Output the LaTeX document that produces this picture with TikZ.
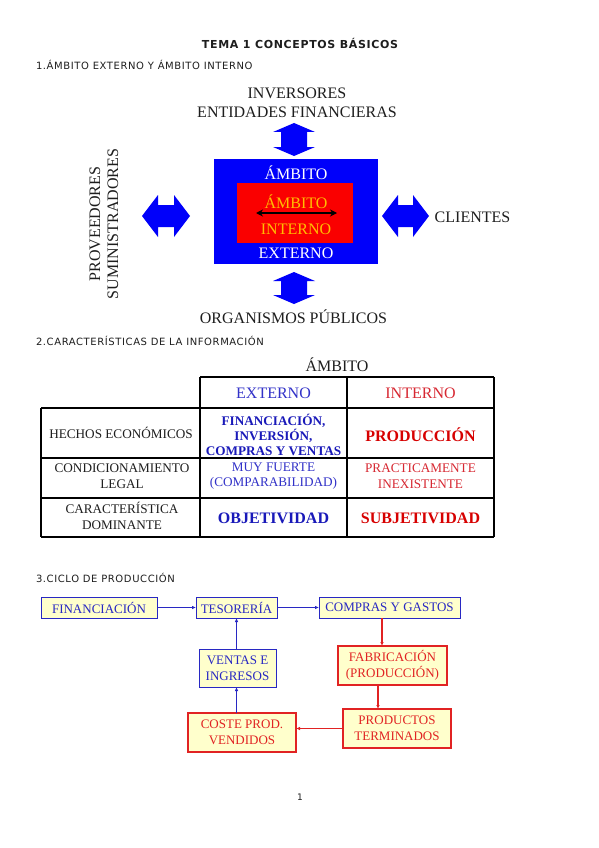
\documentclass[tikz,border=0pt]{standalone}
\usepackage{fontspec}
\setmainfont{Liberation Serif}
\newfontfamily\djsans[LetterSpace=6]{DejaVu Sans}
\usetikzlibrary{arrows.meta}
\definecolor{bxblue}{RGB}{0,0,250}
\definecolor{bxred}{RGB}{250,0,0}
\definecolor{orng}{RGB}{255,190,0}
\definecolor{tblue}{RGB}{50,50,200}
\definecolor{tred}{RGB}{215,40,50}
\definecolor{bblue}{RGB}{25,25,185}
\definecolor{bred}{RGB}{215,0,0}
\definecolor{cyfill}{RGB}{255,255,204}
\definecolor{cblue}{RGB}{40,40,195}
\definecolor{cred}{RGB}{225,35,35}
\definecolor{txt}{RGB}{30,30,30}
\begin{document}
\begin{tikzpicture}[x=1pt,y=-1pt,
  every node/.style={inner sep=0pt,outer sep=0pt},
  head/.style={font=\djsans\fontsize{10}{12}\selectfont,anchor=west,text=txt},
  ff/.style={font=\fontsize{16}{18}\selectfont,align=center,text=txt},
  fm/.style={font=\fontsize{13.2}{15.5}\selectfont,align=center,text=txt},
  fmb/.style={font=\bfseries\fontsize{13.2}{15}\selectfont,align=center},
  fbb/.style={font=\bfseries\fontsize{16}{18}\selectfont,align=center},
  tline/.style={line width=1.3pt,draw=black},
  barrow/.style={fill=bxblue},
  cbox/.style={draw,fill=cyfill,line width=1pt,font=\fontsize{13}{16}\selectfont,align=center},
  bbox/.style={cbox,draw=cblue,text=cblue},
  rbox/.style={cbox,draw=cred,text=cred,line width=1.3pt},
  carr/.style={line width=1pt,-{Latex[length=4pt,width=3.5pt]}}
]
\useasboundingbox (0,0) rectangle (599,848);
\fill[white] (0,0) rectangle (599,848);

% headings
\node[font=\djsans\bfseries\fontsize{11}{13}\selectfont,text=txt] (title) at (300,43) {TEMA 1 CONCEPTOS BÁSICOS};
\node[head] (h1) at (36,65) {1.ÁMBITO EXTERNO Y ÁMBITO INTERNO};
\node[head] (h2) at (36,341) {2.CARACTERÍSTICAS DE LA INFORMACIÓN};
\node[head] (h3) at (36,578) {3.CICLO DE PRODUCCIÓN};

% ---------- diagram 1 ----------
\node[ff] (inv) at (297,93) {INVERSORES};
\node[ff] (ent) at (297,112) {ENTIDADES FINANCIERAS};
\node[fill=bxblue,minimum width=164pt,minimum height=105pt] (ext) at (296,211.5) {};
\node[fill=bxred,minimum width=116pt,minimum height=60pt] (int) at (295,213) {};
\node[ff,text=white] (extA) at (296,173) {ÁMBITO};
\node[ff,text=white] (extB) at (296,253) {EXTERNO};
\node[ff,text=orng] (intA) at (296,202) {ÁMBITO};
\node[ff,text=orng] (intB) at (296,229) {INTERNO};
\coordinate (ia) at (256,213);
\coordinate (ib) at (337,213);
\draw[line width=1.8pt,{Stealth[length=7pt,width=7pt]}-{Stealth[length=7pt,width=7pt]}] (ia) -- (ib);

% block arrows
\fill[barrow] (294,123) -- (315,132) -- (307,132) -- (307,147) -- (315,147) -- (294,156)
  -- (273,147) -- (281,147) -- (281,132) -- (273,132) -- cycle;
\fill[barrow] (294,272) -- (315,281) -- (307,281) -- (307,295) -- (315,295) -- (294,304)
  -- (273,295) -- (281,295) -- (281,281) -- (273,281) -- cycle;
\fill[barrow] (142,216) -- (158,195) -- (158,205) -- (174,205) -- (174,195) -- (190,216)
  -- (174,237) -- (174,227) -- (158,227) -- (158,237) -- cycle;
\fill[barrow] (382,216) -- (398,195) -- (398,205) -- (413,205) -- (413,195) -- (429,216)
  -- (413,237) -- (413,227) -- (398,227) -- (398,237) -- cycle;

\node[ff] (cli) at (472.5,217) {CLIENTES};
\node[ff,rotate=90] (prov) at (104,224) {PROVEEDORES\\SUMINISTRADORES};
\node[ff] (org) at (293.5,317) {ORGANISMOS PÚBLICOS};

% ---------- table ----------
\node[ff] (amb) at (337,365) {ÁMBITO};
\draw[tline] (200,377) -- (494,377);
\draw[tline] (41,408) -- (494,408);
\draw[tline] (41,458) -- (494,458);
\draw[tline] (41,498) -- (494,498);
\draw[tline] (41,537) -- (494,537);
\draw[tline] (41,408) -- (41,537);
\draw[tline] (200,377) -- (200,537);
\draw[tline] (347,377) -- (347,537);
\draw[tline] (494,377) -- (494,537);

\node[ff,text=tblue] (cext) at (273.5,393) {EXTERNO};
\node[ff,text=tred] (cint) at (420.5,393) {INTERNO};

\node[fm] (r1) at (121,433) {HECHOS ECONÓMICOS};
\node[fmb,text=bblue] (r1e) at (273.5,435) {FINANCIACIÓN,\\INVERSIÓN,\\COMPRAS Y VENTAS};
\node[fbb,text=bred] (r1i) at (420.5,435) {PRODUCCIÓN};

\node[fm] (r2) at (122,476) {CONDICIONAMIENTO\\LEGAL};
\node[fm,text=tblue] (r2e) at (273.5,476) {MUY FUERTE\\(COMPARABILIDAD)};
\node[fm,text=tred] (r2i) at (420.5,476) {PRACTICAMENTE\\INEXISTENTE};

\node[fm] (r3) at (122,516) {CARACTERÍSTICA\\DOMINANTE};
\node[fbb,text=bblue] (r3e) at (273.5,518) {OBJETIVIDAD};
\node[fbb,text=bred] (r3i) at (420.5,518) {SUBJETIVIDAD};

% ---------- cycle ----------
\node[bbox,minimum width=116pt,minimum height=21pt] (fin) at (99,607.5) {FINANCIACIÓN};
\node[bbox,minimum width=81pt,minimum height=21pt] (tes) at (236.5,607.5) {TESORERÍA};
\node[bbox,minimum width=141pt,minimum height=21pt] (comp) at (389.5,607.5) {COMPRAS Y GASTOS};
\node[bbox,minimum width=77pt,minimum height=38pt] (ven) at (237.5,668) {VENTAS E\\INGRESOS};
\node[rbox,minimum width=109pt,minimum height=39pt] (fab) at (392.5,665.5) {FABRICACIÓN\\(PRODUCCIÓN)};
\node[rbox,minimum width=108pt,minimum height=39pt] (cos) at (242,732.5) {COSTE PROD.\\VENDIDOS};
\node[rbox,minimum width=108pt,minimum height=39pt] (pro) at (397,728.5) {PRODUCTOS\\TERMINADOS};

\draw[carr,cblue] (fin) -- (tes);
\draw[carr,cblue] (tes) -- (comp);
\draw[carr,cblue] (ven.north -| tes.south) -- (tes.south);
\draw[carr,cblue] (cos.north -| tes.south) -- (ven.south -| tes.south);
\draw[carr,cred,line width=1.2pt] ([xshift=-7.5pt]comp.south) -- ([xshift=-7.5pt]comp.south |- fab.north);
\draw[carr,cred,line width=1.2pt] ([xshift=-14.5pt]fab.south) -- ([xshift=-14.5pt]fab.south |- pro.north);
\draw[carr,cred,line width=1.2pt] (pro.west) -- (pro.west -| cos.east);

\node[font=\djsans\fontsize{9}{11}\selectfont,text=txt] (pg) at (300,797) {1};
\end{tikzpicture}
\end{document}
